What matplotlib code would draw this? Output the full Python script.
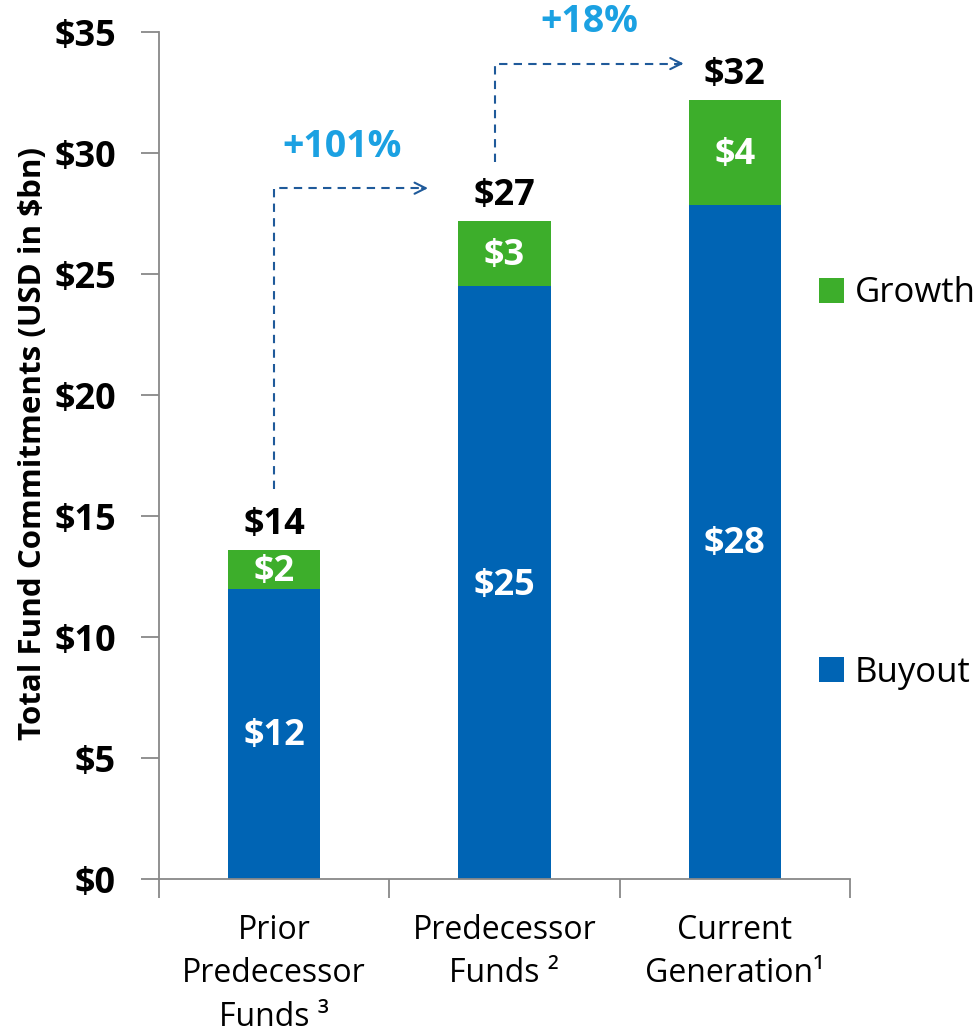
import matplotlib
matplotlib.use("Agg")
import matplotlib.pyplot as plt
import numpy as np

plt.rcParams['font.family'] = ['Open Sans', 'DejaVu Sans']

# ==============================================================================
# DATA
# ==============================================================================
categories = ["Prior\nPredecessor\nFunds \u00b3", "Predecessor\nFunds \u00b2", "Current\nGeneration\u00b9"]
buyout = [12.0, 24.5, 27.85]
growth = [1.6, 2.7, 4.35]
buyout_labels = ["$12", "$25", "$28"]
growth_labels = ["$2", "$3", "$4"]
total_labels = ["$14", "$27", "$32"]
growth_pct = ["+101%", "+18%"]
yticks = [0, 5, 10, 15, 20, 25, 30, 35]

blue = "#0064B4"
green = "#3DAE2B"
pct_color = "#1BA1E2"
arrow_color = "#1F5A9A"

def main():
    fig = plt.figure(figsize=(9.77, 10.36), dpi=100)
    ax = fig.add_axes([0.1627, 0.1515, 0.7073, 0.8175])

    x = np.arange(len(categories))
    totals = np.array(buyout) + np.array(growth)

    ax.bar(x, buyout, width=0.4, color=blue, label="Buyout")
    ax.bar(x, growth, width=0.4, bottom=buyout, color=green, label="Growth")

    # Labels inside and above the bars
    buyout_label_y = [5.9, 12.1, 13.85]
    for i in range(len(x)):
        ax.text(x[i], buyout_label_y[i], buyout_labels[i], color="white", fontsize=26,
                fontweight="bold", ha="center", va="center")
        ax.text(x[i], buyout[i] + growth[i] / 2 - 0.1, growth_labels[i], color="white", fontsize=26,
                fontweight="bold", ha="center", va="center")
        ax.text(x[i], totals[i] + 0.3, total_labels[i], color="black", fontsize=26,
                fontweight="bold", ha="center", va="bottom")

    # Growth arrows
    arrow_x0 = [0.0, 0.96]
    arrow_x1 = [0.68, 1.79]
    arrow_ylow = [totals[0] + 2.5, totals[1] + 2.45]
    arrow_yhigh = [totals[1] + 1.35, totals[2] + 1.5]
    pct_x = [0.295, 1.37]
    for k in range(2):
        ax.plot([arrow_x0[k], arrow_x0[k], arrow_x1[k] - 0.02],
                [arrow_ylow[k], arrow_yhigh[k], arrow_yhigh[k]],
                color=arrow_color, linestyle=(0, (4, 3)), linewidth=1.5, clip_on=False)
        ax.annotate("", xy=(arrow_x1[k], arrow_yhigh[k]), xytext=(arrow_x1[k] - 0.05, arrow_yhigh[k]),
                    arrowprops=dict(arrowstyle="->,head_length=0.8,head_width=0.4",
                                    color=arrow_color, linewidth=1.5), annotation_clip=False)
        ax.text(pct_x[k], arrow_yhigh[k] + 1.7, growth_pct[k], color=pct_color, fontsize=27,
                fontweight="bold", ha="center", va="center")

    # Axes styling
    ax.set_xlim(-0.5, 2.5)
    ax.set_ylim(0, 35)
    ax.set_yticks(yticks)
    ax.set_yticklabels(["${}".format(v) for v in yticks], fontsize=26, fontweight="bold")
    ax.set_xticks(x)
    ax.set_xticklabels(categories, fontsize=23, linespacing=1.42)
    ax.tick_params(axis="x", which="major", length=0, pad=25)
    ax.set_xticks([-0.5, 0.5, 1.5, 2.5], minor=True)
    ax.tick_params(axis="x", which="minor", length=14, width=1.3, color="#888888")
    ax.tick_params(axis="y", length=13, width=1.3, color="#888888", pad=18)
    for s in ["top", "right"]:
        ax.spines[s].set_visible(False)
    for s in ["left", "bottom"]:
        ax.spines[s].set_color("#888888")
        ax.spines[s].set_linewidth(1.3)

    ax.set_ylabel("Total Fund Commitments (USD in $bn)", fontsize=22.5, fontweight="bold")
    ax.yaxis.set_label_coords(-0.161, 0.514)

    # Legend
    handles, labels = ax.get_legend_handles_labels()
    ax.legend(handles[::-1], labels[::-1], loc="upper left", bbox_to_anchor=(0.935, 0.728),
              frameon=False, fontsize=25, labelspacing=9.95, handlelength=0.72,
              handleheight=0.72, handletextpad=0.3, borderaxespad=0)

    plt.savefig("out.png", dpi=100)

if __name__ == "__main__":
    main()
